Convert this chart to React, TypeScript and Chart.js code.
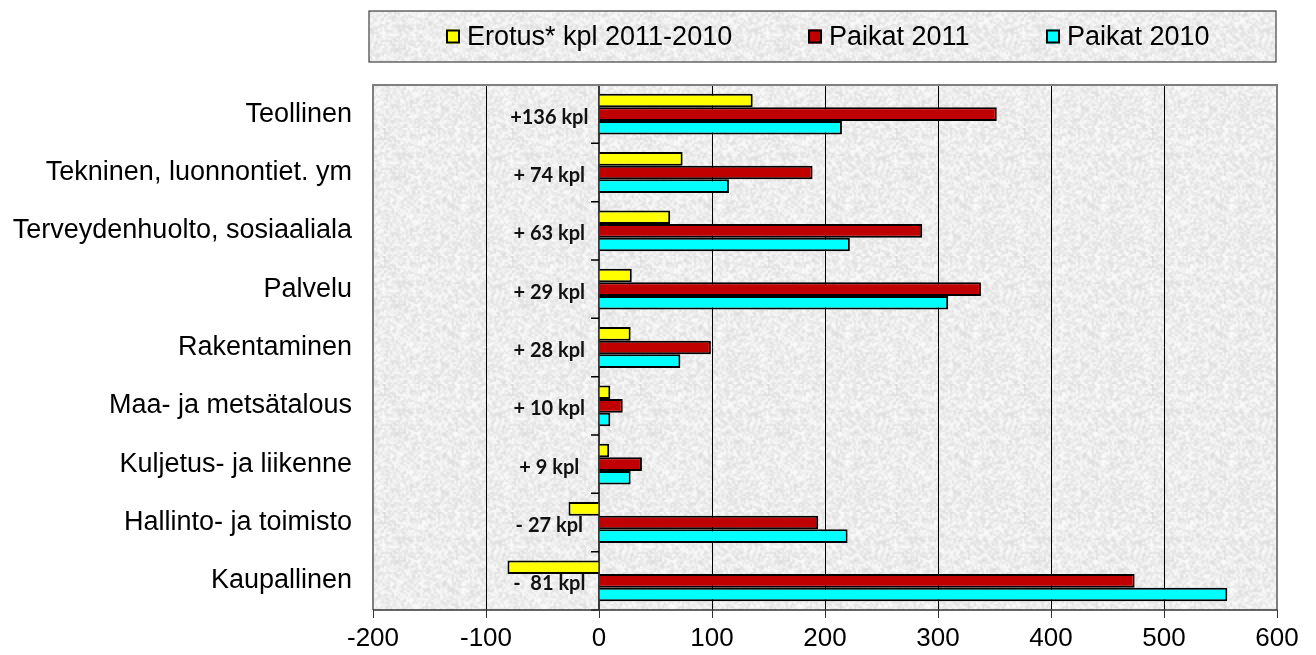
import React, { useEffect, useRef } from "react";
import { Chart, registerables } from "chart.js";

Chart.register(...registerables);

const categories = [
  "Teollinen",
  "Tekninen, luonnontiet. ym",
  "Terveydenhuolto, sosiaaliala",
  "Palvelu",
  "Rakentaminen",
  "Maa- ja metsätalous",
  "Kuljetus- ja liikenne",
  "Hallinto- ja toimisto",
  "Kaupallinen",
];

const erotus = [136, 74, 63, 29, 28, 10, 9, -27, -81];
const paikat2011 = [352, 189, 286, 338, 99, 21, 38, 194, 474];
const paikat2010 = [215, 115, 222, 309, 72, 10, 28, 220, 556];

const diffLabels = [
  "+136 kpl",
  "+ 74 kpl",
  "+ 63 kpl",
  "+ 29 kpl",
  "+ 28 kpl",
  "+ 10 kpl",
  "+ 9 kpl",
  "- 27 kpl",
  "-  81 kpl",
];

const seriesNames = ["Erotus* kpl 2011-2010", "Paikat 2011", "Paikat 2010"];
const seriesColors = ["#ffff00", "#c00000", "#00ffff"];

const xMin = -200;
const xMax = 600;
const xStep = 100;

const FONT = "'Liberation Sans', Arial, sans-serif";

function makeTexture(): HTMLCanvasElement {
  const small = document.createElement("canvas");
  small.width = 64;
  small.height = 64;
  const sctx = small.getContext("2d")!;
  const img = sctx.createImageData(64, 64);
  for (let y = 0; y < 64; y++) {
    for (let x = 0; x < 64; x++) {
      const h = Math.sin(x * 12.9898 + y * 78.233) * 43758.5453;
      const f = h - Math.floor(h);
      const v = Math.round(220 + f * 34);
      const i = (y * 64 + x) * 4;
      img.data[i] = v;
      img.data[i + 1] = v;
      img.data[i + 2] = v;
      img.data[i + 3] = 255;
    }
  }
  sctx.putImageData(img, 0, 0);
  const big = document.createElement("canvas");
  big.width = 128;
  big.height = 128;
  const bctx = big.getContext("2d")!;
  bctx.imageSmoothingEnabled = true;
  bctx.drawImage(small, 0, 0, 128, 128);
  return big;
}

export default function App() {
  const ref = useRef<HTMLCanvasElement | null>(null);

  useEffect(() => {
    const canvas = ref.current;
    if (!canvas) return;
    const texture = makeTexture();

    const bgPlugin = {
      id: "bgPlugin",
      beforeDraw(chart: any) {
        const { ctx, chartArea } = chart;
        const pat = ctx.createPattern(texture, "repeat");
        ctx.save();
        ctx.fillStyle = "#ffffff";
        ctx.fillRect(0, 0, chart.width, chart.height);
        ctx.fillStyle = pat || "#e8e8e8";
        ctx.fillRect(chartArea.left, chartArea.top, chartArea.right - chartArea.left, chartArea.bottom - chartArea.top);
        // legend box
        ctx.fillRect(369, 11, 1276 - 369, 62 - 11);
        ctx.strokeStyle = "#404040";
        ctx.lineWidth = 1.2;
        ctx.strokeRect(369, 11, 1276 - 369, 62 - 11);
        // legend items
        const itemX = [446, 808, 1046];
        ctx.font = `27px ${FONT}`;
        ctx.textBaseline = "middle";
        ctx.textAlign = "left";
        for (let i = 0; i < seriesNames.length; i++) {
          const x = itemX[i];
          ctx.fillStyle = seriesColors[i];
          ctx.fillRect(x, 29.5, 14, 14);
          ctx.strokeStyle = "#000";
          ctx.lineWidth = 2;
          ctx.strokeRect(x + 1, 30.5, 12, 12);
          ctx.fillStyle = "#000";
          ctx.fillText(seriesNames[i], x + 21, 37.5);
        }
        ctx.restore();
      },
      beforeDatasetsDraw(chart: any) {
        const { ctx, chartArea, scales } = chart;
        const x0 = scales.x.getPixelForValue(0);
        ctx.save();
        ctx.strokeStyle = "#000";
        ctx.lineWidth = 1.5;
        ctx.beginPath();
        ctx.moveTo(x0, chartArea.top);
        ctx.lineTo(x0, chartArea.bottom);
        const n = categories.length;
        const h = (chartArea.bottom - chartArea.top) / n;
        for (let i = 0; i <= n; i++) {
          const y = chartArea.top + i * h;
          ctx.moveTo(x0 - 8, y);
          ctx.lineTo(x0, y);
        }
        ctx.stroke();
        ctx.restore();
      },
      afterDatasetsDraw(chart: any) {
        const { ctx, scales } = chart;
        ctx.save();
        ctx.font = `bold 20px Lato, 'Open Sans', sans-serif`;
        ctx.fillStyle = "#111";
        ctx.textAlign = "center";
        ctx.textBaseline = "middle";
        const cx = scales.x.getPixelForValue(-44);
        for (let i = 0; i < diffLabels.length; i++) {
          const y = scales.y.getPixelForValue(i) + 3;
          ctx.fillText(diffLabels[i], cx, y);
        }
        ctx.restore();
      },
      afterDraw(chart: any) {
        const { ctx, chartArea } = chart;
        ctx.save();
        ctx.strokeStyle = "#7f7f7f";
        ctx.lineWidth = 2;
        ctx.beginPath();
        ctx.moveTo(chartArea.left, chartArea.bottom);
        ctx.lineTo(chartArea.left, chartArea.top);
        ctx.lineTo(chartArea.right, chartArea.top);
        ctx.lineTo(chartArea.right, chartArea.bottom);
        ctx.stroke();
        ctx.strokeStyle = "#333";
        ctx.lineWidth = 1.5;
        ctx.beginPath();
        ctx.moveTo(chartArea.left, chartArea.bottom);
        ctx.lineTo(chartArea.right, chartArea.bottom);
        ctx.stroke();
        ctx.restore();
      },
    };

    const chart = new Chart(canvas, {
      type: "bar",
      data: {
        labels: categories,
        datasets: [
          { label: seriesNames[0], data: erotus, backgroundColor: seriesColors[0], borderColor: "#000", borderWidth: 2 },
          { label: seriesNames[1], data: paikat2011, backgroundColor: seriesColors[1], borderColor: "#000", borderWidth: 2 },
          { label: seriesNames[2], data: paikat2010, backgroundColor: seriesColors[2], borderColor: "#000", borderWidth: 2 },
        ],
      },
      options: {
        indexAxis: "y",
        animation: false,
        responsive: false,
        maintainAspectRatio: false,
        layout: { padding: { top: 85, right: 39, left: 0, bottom: 0 } },
        datasets: { bar: { barPercentage: 1, categoryPercentage: 0.7 } },
        plugins: {
          legend: { display: false },
          tooltip: { enabled: false },
        },
        scales: {
          x: {
            type: "linear",
            min: xMin,
            max: xMax,
            ticks: {
              stepSize: xStep,
              color: "#000",
              font: { size: 26, family: FONT },
              padding: 5,
            },
            grid: {
              color: (c: any) =>
                c.tick && (c.tick.value === xMin || c.tick.value === xMax || c.tick.value === 0)
                  ? "rgba(0,0,0,0)"
                  : "#000",
              lineWidth: 1,
              tickColor: "#333",
              tickLength: 8,
              drawTicks: true,
            },
            border: { display: false },
            afterFit: (s: any) => {
              s.height = 45;
            },
          },
          y: {
            type: "category",
            ticks: {
              color: "#000",
              font: { size: 27, family: FONT },
              padding: 21,
              autoSkip: false,
            },
            grid: { display: false, drawTicks: false },
            border: { display: false },
            afterFit: (s: any) => {
              s.width = 373;
            },
          },
        },
      },
      plugins: [bgPlugin],
    } as any);

    return () => chart.destroy();
  }, []);

  return (
    <div style={{ position: "fixed", left: 0, top: 0, width: 1316, height: 655 }}>
      <canvas ref={ref} width={1316} height={655} style={{ width: 1316, height: 655 }} />
    </div>
  );
}
